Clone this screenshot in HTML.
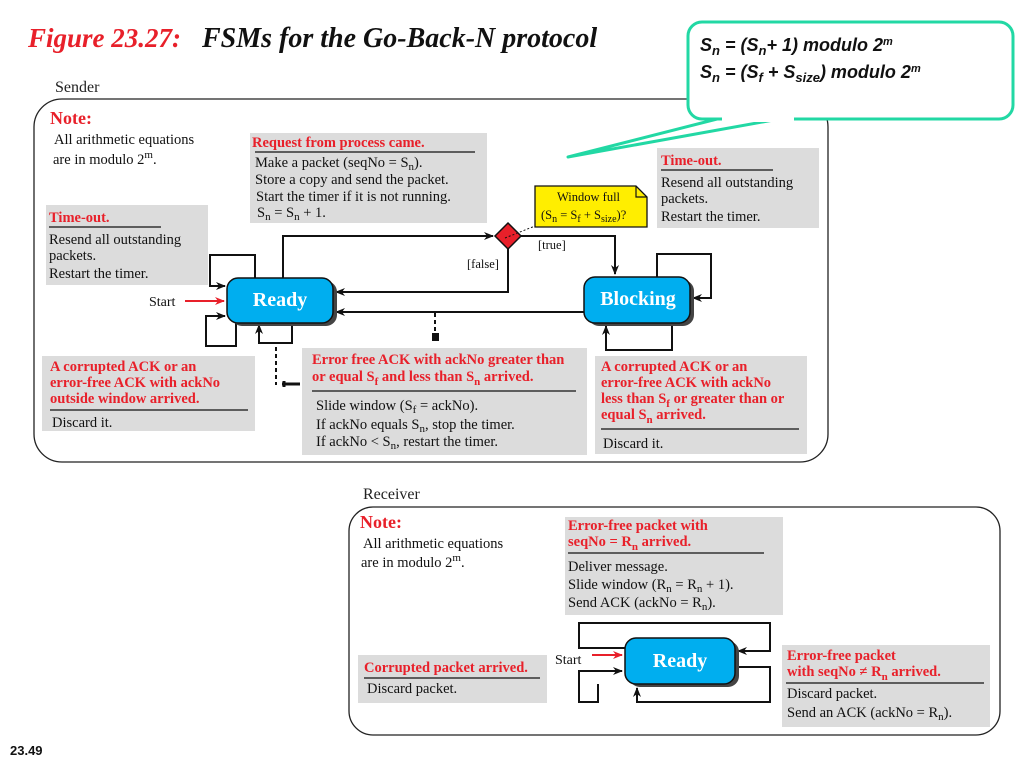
<!DOCTYPE html>
<html><head><meta charset="utf-8"><style>
html,body{margin:0;padding:0;background:#fff;}
svg{display:block;}
text{font-family:"Liberation Serif",serif;}
.t{font-size:14.5px;fill:#111;}
.r{font-size:14.5px;fill:#e8202a;font-weight:bold;}
.g{fill:#dcdcdc;}
.ln{stroke:#111;stroke-width:2;fill:none;}
.st{fill:#fff;font-weight:bold;font-size:20px;}
</style></head><body>
<svg width="1021" height="767" viewBox="0 0 1021 767" xmlns="http://www.w3.org/2000/svg">
<defs>
<marker id="a" markerWidth="10" markerHeight="10" refX="9" refY="5" orient="auto" markerUnits="userSpaceOnUse"><path d="M0,1 L10,5 L0,9 L3,5z" fill="#111"/></marker>
<marker id="ar" markerWidth="10" markerHeight="10" refX="9" refY="5" orient="auto" markerUnits="userSpaceOnUse"><path d="M0,1 L10,5 L0,9 L3,5z" fill="#e8202a"/></marker>
</defs>
<rect width="1021" height="767" fill="#fff"/>
<text x="28" y="47" style="font-size:27px;font-weight:bold;font-style:italic;fill:#e8202a">Figure 23.27:</text>
<text x="202" y="47" style="font-size:28px;font-weight:bold;font-style:italic;fill:#111">FSMs for the Go-Back-N protocol</text>

<!-- Sender -->
<text x="55" y="92" style="font-size:16px;fill:#222">Sender</text>
<rect x="34" y="99" width="794" height="363" rx="28" fill="none" stroke="#222" stroke-width="1.3"/>
<text x="50" y="124" style="font-size:18px;font-weight:bold;fill:#e8202a">Note:</text>
<text x="54" y="144" class="t">All arithmetic equations</text>
<text x="53" y="164" class="t">are in modulo 2<tspan dy="-6" font-size="11">m</tspan><tspan dy="6">.</tspan></text>

<rect x="250" y="133" width="237" height="90" class="g"/>
<text x="252" y="147" class="r">Request from process came.</text>
<line x1="255" y1="152" x2="475" y2="152" stroke="#111" stroke-width="1.3"/>
<text x="255" y="167" class="t">Make a packet (seqNo = S<tspan dy="3" font-size="11">n</tspan><tspan dy="-3">).</tspan></text>
<text x="255" y="184" class="t">Store a copy and send the packet.</text>
<text x="256" y="201" class="t">Start the timer if it is not running.</text>
<text x="257" y="217" class="t">S<tspan dy="3" font-size="11">n</tspan><tspan dy="-3"> = S</tspan><tspan dy="3" font-size="11">n</tspan><tspan dy="-3"> + 1.</tspan></text>

<rect x="46" y="205" width="162" height="80" class="g"/>
<text x="49" y="222" class="r">Time-out.</text>
<line x1="49" y1="227" x2="161" y2="227" stroke="#111" stroke-width="1.3"/>
<text x="49" y="244" class="t">Resend all outstanding</text>
<text x="49" y="260" class="t">packets.</text>
<text x="49" y="278" class="t">Restart the timer.</text>

<rect x="657" y="148" width="162" height="80" class="g"/>
<text x="661" y="165" class="r">Time-out.</text>
<line x1="661" y1="170" x2="773" y2="170" stroke="#111" stroke-width="1.3"/>
<text x="661" y="187" class="t">Resend all outstanding</text>
<text x="661" y="203" class="t">packets.</text>
<text x="661" y="221" class="t">Restart the timer.</text>

<!-- connectors sender -->
<path d="M283,278 V236 H493" class="ln" marker-end="url(#a)"/>
<path d="M508,249 V292 H336" class="ln" marker-end="url(#a)"/>
<path d="M521,236 H615 V274" class="ln" marker-end="url(#a)"/>
<path d="M584,312 H336" class="ln" marker-end="url(#a)"/>
<path d="M255,278 V255 H210 V286 H225" class="ln" marker-end="url(#a)"/>
<path d="M236,322 V346 H206 V316 H225" class="ln" marker-end="url(#a)"/>
<path d="M292,322 V343 H259 V325" class="ln" marker-end="url(#a)"/>
<path d="M657,277 V254 H711 V298 H693" class="ln" marker-end="url(#a)"/>
<path d="M672,323 V350 H606 V326" class="ln" marker-end="url(#a)"/>
<path d="M185,301 H224" stroke="#e8202a" stroke-width="2" fill="none" marker-end="url(#ar)"/>
<text x="149" y="306" style="font-size:14px;fill:#111">Start</text>
<line x1="276" y1="347" x2="276" y2="385" stroke="#111" stroke-width="2" stroke-dasharray="4,3"/>
<path d="M282,384 h18 M284,381 v6" stroke="#111" stroke-width="3"/>
<line x1="435" y1="313" x2="435" y2="332" stroke="#111" stroke-width="2" stroke-dasharray="4,3"/>
<path d="M432,333 h7 v8 h-7z" fill="#111"/>

<!-- diamond -->
<polygon points="508,223 521,236 508,249 495,236" fill="#e8202a" stroke="#111" stroke-width="1.5"/>
<line x1="505" y1="238" x2="535" y2="226" stroke="#111" stroke-width="1" stroke-dasharray="2,2"/>
<polygon points="535,186 636,186 647,197 647,227 535,227" fill="#ffee00" stroke="#111" stroke-width="1.3"/>
<polyline points="636,186 636,197 647,197" fill="none" stroke="#111" stroke-width="1.2"/>
<text x="557" y="201" style="font-size:12.5px;fill:#111">Window full</text>
<text x="541" y="219" style="font-size:12.5px;fill:#111">(S<tspan dy="3" font-size="10">n</tspan><tspan dy="-3"> = S</tspan><tspan dy="3" font-size="10">f</tspan><tspan dy="-3"> + S</tspan><tspan dy="3" font-size="10">size</tspan><tspan dy="-3">)?</tspan></text>
<text x="538" y="249" style="font-size:12.5px;fill:#111">[true]</text>
<text x="467" y="268" style="font-size:12.5px;fill:#111">[false]</text>

<!-- states -->
<rect x="231" y="281" width="106" height="45" rx="11" fill="#444"/>
<rect x="227" y="278" width="106" height="45" rx="11" fill="#00aeef" stroke="#111" stroke-width="1.5"/>
<text x="280" y="306" text-anchor="middle" class="st">Ready</text>
<rect x="588" y="280" width="106" height="46" rx="11" fill="#444"/>
<rect x="584" y="277" width="106" height="46" rx="11" fill="#00aeef" stroke="#111" stroke-width="1.5"/>
<text x="638" y="305" text-anchor="middle" class="st">Blocking</text>

<rect x="42" y="356" width="213" height="75" class="g"/>
<text x="50" y="371" class="r">A corrupted ACK or an</text>
<text x="50" y="387" class="r">error-free ACK with ackNo</text>
<text x="50" y="403" class="r">outside window arrived.</text>
<line x1="50" y1="410" x2="248" y2="410" stroke="#111" stroke-width="1.3"/>
<text x="52" y="427" class="t">Discard it.</text>

<rect x="302" y="348" width="285" height="107" class="g"/>
<text x="312" y="364" class="r">Error free ACK with ackNo greater than</text>
<text x="312" y="381" class="r">or equal S<tspan dy="4" font-size="11">f</tspan><tspan dy="-4"> and less than S</tspan><tspan dy="4" font-size="11">n</tspan><tspan dy="-4"> arrived.</tspan></text>
<line x1="312" y1="391" x2="576" y2="391" stroke="#111" stroke-width="1.3"/>
<text x="316" y="410" class="t">Slide window (S<tspan dy="3" font-size="11">f</tspan><tspan dy="-3">  = ackNo).</tspan></text>
<text x="316" y="429" class="t">If ackNo equals S<tspan dy="3" font-size="11">n</tspan><tspan dy="-3">, stop the timer.</tspan></text>
<text x="316" y="446" class="t">If ackNo &lt; S<tspan dy="3" font-size="11">n</tspan><tspan dy="-3">, restart the timer.</tspan></text>

<rect x="595" y="356" width="212" height="98" class="g"/>
<text x="601" y="371" class="r">A corrupted ACK or an</text>
<text x="601" y="387" class="r">error-free ACK with ackNo</text>
<text x="601" y="403" class="r">less than S<tspan dy="4" font-size="11">f</tspan><tspan dy="-4"> or greater than or</tspan></text>
<text x="601" y="419" class="r">equal S<tspan dy="4" font-size="11">n</tspan><tspan dy="-4"> arrived.</tspan></text>
<line x1="601" y1="429" x2="799" y2="429" stroke="#111" stroke-width="1.3"/>
<text x="603" y="448" class="t">Discard it.</text>

<!-- callout -->
<polygon points="725,117 568,157 790,117" fill="#fff" stroke="#22d8a4" stroke-width="3" stroke-linejoin="round"/>
<rect x="688" y="22" width="325" height="97" rx="14" fill="#fff" stroke="#22d8a4" stroke-width="3"/>
<rect x="722" y="112" width="72" height="10" fill="#fff"/>
<g style="font-size:18px;font-weight:bold;font-style:italic;fill:#111">
<text x="700" y="51" style="font-family:'Liberation Sans',sans-serif">S<tspan dy="4" font-size="13">n</tspan><tspan dy="-4">  =  (S</tspan><tspan dy="4" font-size="13">n</tspan><tspan dy="-4">+ 1) modulo 2</tspan><tspan dy="-6" font-size="11">m</tspan></text>
<text x="700" y="78" style="font-family:'Liberation Sans',sans-serif">S<tspan dy="4" font-size="13">n</tspan><tspan dy="-4">  =  (S</tspan><tspan dy="4" font-size="13">f</tspan><tspan dy="-4"> + S</tspan><tspan dy="4" font-size="13">size</tspan><tspan dy="-4">) modulo 2</tspan><tspan dy="-6" font-size="11">m</tspan></text>
</g>

<!-- Receiver -->
<text x="363" y="499" style="font-size:16px;fill:#222">Receiver</text>
<rect x="349" y="507" width="651" height="228" rx="24" fill="none" stroke="#222" stroke-width="1.3"/>
<text x="360" y="528" style="font-size:18px;font-weight:bold;fill:#e8202a">Note:</text>
<text x="363" y="548" class="t">All arithmetic equations</text>
<text x="361" y="567" class="t">are in modulo 2<tspan dy="-6" font-size="11">m</tspan><tspan dy="6">.</tspan></text>

<rect x="565" y="517" width="218" height="98" class="g"/>
<text x="568" y="530" class="r">Error-free packet with</text>
<text x="568" y="546" class="r">seqNo = R<tspan dy="4" font-size="11">n</tspan><tspan dy="-4"> arrived.</tspan></text>
<line x1="568" y1="553" x2="764" y2="553" stroke="#111" stroke-width="1.3"/>
<text x="568" y="571" class="t">Deliver message.</text>
<text x="568" y="589" class="t">Slide window (R<tspan dy="3" font-size="11">n</tspan><tspan dy="-3"> = R</tspan><tspan dy="3" font-size="11">n</tspan><tspan dy="-3"> + 1).</tspan></text>
<text x="568" y="607" class="t">Send ACK (ackNo = R<tspan dy="3" font-size="11">n</tspan><tspan dy="-3">).</tspan></text>

<path d="M625,648 H579 V623 H770 V651 H738" class="ln" marker-end="url(#a)"/>
<path d="M598,684 V702 H579 V671 H622" class="ln" marker-end="url(#a)"/>
<path d="M735,667 H770 V702 H637 V688" class="ln" marker-end="url(#a)"/>
<path d="M592,655 H622" stroke="#e8202a" stroke-width="2" fill="none" marker-end="url(#ar)"/>
<text x="555" y="664" style="font-size:14px;fill:#111">Start</text>

<rect x="629" y="641" width="110" height="46" rx="11" fill="#444"/>
<rect x="625" y="638" width="110" height="46" rx="11" fill="#00aeef" stroke="#111" stroke-width="1.5"/>
<text x="680" y="667" text-anchor="middle" class="st">Ready</text>

<rect x="358" y="655" width="189" height="48" class="g"/>
<text x="364" y="672" class="r">Corrupted packet arrived.</text>
<line x1="364" y1="678" x2="540" y2="678" stroke="#111" stroke-width="1.3"/>
<text x="367" y="693" class="t">Discard packet.</text>

<rect x="782" y="645" width="208" height="82" class="g"/>
<text x="787" y="660" class="r">Error-free packet</text>
<text x="787" y="676" class="r">with seqNo ≠ R<tspan dy="4" font-size="11">n</tspan><tspan dy="-4"> arrived.</tspan></text>
<line x1="786" y1="683" x2="984" y2="683" stroke="#111" stroke-width="1.3"/>
<text x="787" y="698" class="t">Discard packet.</text>
<text x="787" y="717" class="t">Send an ACK (ackNo = R<tspan dy="3" font-size="11">n</tspan><tspan dy="-3">).</tspan></text>

<text x="10" y="755" style="font-family:'Liberation Sans',sans-serif;font-size:13px;font-weight:bold;fill:#111">23.49</text>
</svg>
</body></html>
